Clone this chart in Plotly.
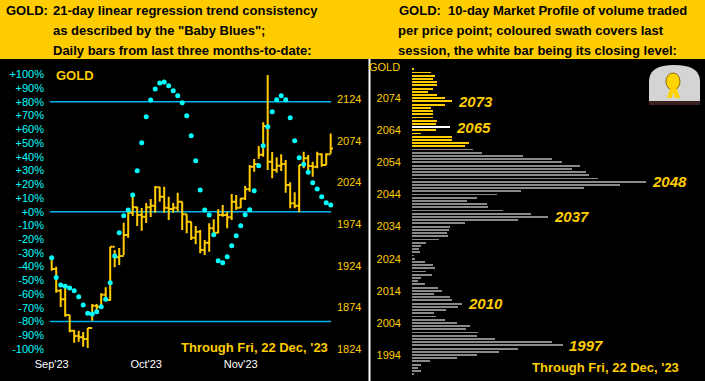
import plotly.graph_objects as go

W, H = 705, 381
GOLD = "#FFCC00"
CYAN = "#00FFFF"
LINE_BLUE = "#00B4F0"
FONT = "Liberation Sans, Arial, sans-serif"

# ---------------- data : left panel ----------------
bar_index = list(range(63))
highs = [1934.9, 1922.9, 1896.1, 1900.6, 1864.9, 1846.8, 1846.0, 1844.4, 1849.2, 1878.1,
         1878.1, 1890.9, 1898.2, 1947.0, 1943.0, 1945.4, 1975.8, 1991.1, 2009.1, 1995.0,
         1993.5, 1999.5, 2004.3, 2019.9, 2019.1, 2019.1, 2007.0, 1999.5, 2011.9, 2001.0,
         1985.9, 1977.0, 1971.8, 1967.0, 1955.0, 1975.1, 1979.9, 1991.9, 1997.1, 1989.0,
         2010.3, 2009.1, 2005.5, 2019.9, 2045.1, 2052.4, 2068.0, 2096.5, 2153.3, 2060.8,
         2054.4, 2058.0, 2051.2, 2024.4, 2012.3, 2045.1, 2061.1, 2057.2, 2049.1, 2061.1,
         2059.2, 2059.2, 2083.0]
lows = [1918.1, 1891.7, 1874.5, 1862.8, 1844.0, 1831.6, 1832.8, 1826.8, 1825.2, 1858.0,
        1866.9, 1874.1, 1882.0, 1882.0, 1922.2, 1925.0, 1937.0, 1957.8, 1983.9, 1971.8,
        1966.2, 1975.4, 1982.7, 1987.8, 2001.0, 1987.8, 1979.0, 1987.8, 1989.0, 1967.0,
        1963.1, 1955.0, 1949.8, 1939.0, 1937.0, 1941.0, 1959.8, 1963.1, 1983.0, 1969.1,
        1979.0, 1991.1, 1993.5, 2003.1, 2013.1, 2037.1, 2052.7, 2055.1, 2039.1, 2029.2,
        2035.9, 2037.9, 2011.9, 1993.1, 1993.1, 1988.5, 2041.2, 2039.1, 2031.1, 2041.2,
        2043.1, 2045.1, 2059.0]
closes = [1920.2, 1894.1, 1883.7, 1864.9, 1846.0, 1839.6, 1838.1, 1836.0, 1849.2, 1876.0,
          1874.8, 1889.3, 1882.9, 1947.0, 1934.2, 1935.8, 1961.0, 1987.8, 1994.3, 1985.1,
          1983.0, 1994.3, 1996.2, 2018.3, 2007.0, 1993.8, 1992.3, 1993.8, 2001.0, 1985.9,
          1977.0, 1957.8, 1965.0, 1943.0, 1951.8, 1969.1, 1963.8, 1985.1, 1985.1, 1982.3,
          2001.0, 1993.8, 2005.0, 2015.9, 2043.1, 2046.4, 2057.5, 2092.0, 2049.1, 2039.1,
          2044.3, 2046.4, 2021.1, 1999.1, 1996.2, 2045.1, 2053.2, 2043.9, 2043.1, 2058.0,
          2045.1, 2058.0, 2065.0]
opens = [1933.0] + closes[:-1]

trend_pct = [-33.5, -48.0, -53.4, -54.3, -55.6, -57.5, -61.9, -68.0, -74.0, -74.5,
             -72.8, -69.2, -63.8, -51.7, -32.3, -15.3, -2.9, 1.2, 12.2, 29.9,
             50.3, 69.2, 81.4, 89.4, 93.7, 94.5, 91.8, 88.1, 84.5, 79.4,
             69.9, 55.4, 37.1, 15.8, 1.2, -2.4, -16.8, -35.7, -37.1, -32.8,
             -24.8, -17.5, -10.2, -2.2, 1.5, 15.3, 33.5, 48.1, 61.9, 72.8,
             81.6, 84.5, 81.6, 68.5, 51.7, 39.3, 34.5, 28.7, 21.1, 16.5,
             10.9, 6.6, 4.9]

month_ticks = [0, 21, 42]
month_labels = ["Sep'23", "Oct'23", "Nov'23"]
pct_ticks = list(range(-100, 101, 10))
pct_labels = [f"{v:+d}%" for v in pct_ticks]
price_ticks = [1824, 1874, 1924, 1974, 2024, 2074, 2124]
band_levels = [80, 0, -80]

# ---------------- data : right panel (market profile) ----------------
profile_prices = list(range(2083, 1987, -1))
profile_volume = [2.3, 19, 23, 20.7, 25.3, 24.7, 20.7, 16.3, 24.7, 33,
                  39.7, 33, 19, 20.7, 20.7, 20.7, 24.7, 24, 38, 24,
                  9, 39.7, 39.7, 57, 53, 60.7, 69.7, 110.7, 139.7, 149.7,
                  168, 159.7, 174, 177, 185.7, 233.7, 208, 172, 108.7, 84.7,
                  64.7, 54.7, 74.7, 76.3, 90.7, 119, 135.7, 105.7, 53, 38,
                  37, 35.3, 36.3, 27, 14, 9, 7, 8, 2, 3,
                  13, 20.7, 23, 14, 20, 9, 6, 13, 26, 30,
                  22, 38, 40, 50, 46, 34, 22, 24, 33, 45,
                  58, 54, 66, 65, 83, 139.7, 150.7, 105.7, 87, 65,
                  45, 18, 9, 6, 9, 2]
session_low, session_high = 2059, 2083
close_level = 2065
profile_callouts = [2073, 2065, 2048, 2037, 2010, 1997]
profile_ticks = list(range(2074, 1993, -10))

# ---------------- helpers ----------------
def fx(px):
    return px / W

def fy(py):
    return 1 - py / H

fig = go.Figure()

fig.add_trace(go.Ohlc(
    x=bar_index, open=opens, high=highs, low=lows, close=closes,
    xaxis="x", yaxis="y",
    increasing=dict(line=dict(color=GOLD, width=2)),
    decreasing=dict(line=dict(color=GOLD, width=2)),
    tickwidth=0.5, showlegend=False, hoverinfo="skip"))

fig.add_trace(go.Scatter(
    x=bar_index, y=trend_pct, mode="markers", xaxis="x", yaxis="y2",
    marker=dict(color=CYAN, size=5, line=dict(width=0)),
    showlegend=False, hoverinfo="skip"))

bar_colors = []
for p in profile_prices:
    if p == close_level:
        bar_colors.append("#FFFFFF")
    elif session_low <= p <= session_high:
        bar_colors.append(GOLD)
    else:
        bar_colors.append("#8A8A8A")
fig.add_trace(go.Bar(
    x=profile_volume, y=profile_prices, orientation="h", xaxis="x2", yaxis="y3",
    marker=dict(color=bar_colors, line=dict(width=0)), width=0.58,
    showlegend=False, hoverinfo="skip"))

left_dom = [fx(45), fx(336)]
left_ydom = [fy(356), fy(62)]
right_dom = [fx(412), fx(702)]
right_ydom = [fy(378), fy(62)]

tick_font = dict(family=FONT, size=11)

fig.update_layout(
    width=W, height=H, margin=dict(l=0, r=0, t=0, b=0, pad=0, autoexpand=False),
    paper_bgcolor="#000000", plot_bgcolor="#000000",
    bargap=0,
    xaxis=dict(domain=left_dom, range=[-1.49, 63.18], anchor="y",
               tickvals=month_ticks, ticktext=month_labels,
               tickfont=dict(tick_font, color="#FFFFFF"),
               rangeslider=dict(visible=False), automargin=False,
               showgrid=False, zeroline=False, showline=False, ticks=""),
    yaxis=dict(domain=left_ydom, range=[1815.6, 2168.95], anchor="x", side="right",
               tickvals=price_ticks, tickfont=dict(tick_font, color=GOLD), automargin=False,
               showgrid=False, zeroline=False, showline=False, ticks=""),
    yaxis2=dict(overlaying="y", range=[-105.1, 109.03], side="left", anchor="x",
                tickvals=pct_ticks, ticktext=pct_labels, automargin=False,
                tickfont=dict(tick_font, color=CYAN),
                showgrid=False, zeroline=False, showline=False, ticks=""),
    xaxis2=dict(domain=right_dom, range=[0, 290], anchor="y3", visible=False, automargin=False),
    yaxis3=dict(domain=right_ydom, range=[1986.83, 2085.28], anchor="x2",
                tickvals=profile_ticks, tickfont=dict(tick_font, color=GOLD),
                ticklabelstandoff=10, automargin=False,
                showgrid=False, zeroline=False, showline=False, ticks=""),
)

shapes = []
shapes.append(dict(type="rect", xref="paper", yref="paper", x0=0, x1=1, y0=fy(59), y1=1,
                   fillcolor=GOLD, line=dict(width=0), layer="below"))
shapes.append(dict(type="line", xref="paper", yref="paper", x0=fx(369.5), x1=fx(369.5),
                   y0=0, y1=fy(59), line=dict(color="#FFFFFF", width=2)))
for lv in band_levels:
    shapes.append(dict(type="line", xref="x", yref="y2", x0=bar_index[0] - 0.4,
                       x1=bar_index[-1] + 0.1, y0=lv, y1=lv,
                       line=dict(color=LINE_BLUE, width=1.5), layer="below"))
# snow globe icon (approximation)
shapes.append(dict(type="path", xref="paper", yref="paper",
                   path=f"M {fx(649)},{fy(101)} L {fx(649)},{fy(80)} Q {fx(650)},{fy(65)} {fx(674)},{fy(65)} "
                        f"Q {fx(699)},{fy(65)} {fx(700)},{fy(80)} L {fx(700)},{fy(101)} Z",
                   fillcolor="#D4D4D4", line=dict(width=0)))
shapes.append(dict(type="rect", xref="paper", yref="paper", x0=fx(649), x1=fx(700),
                   y0=fy(105), y1=fy(101), fillcolor="#3A2020", line=dict(width=0)))
shapes.append(dict(type="circle", xref="paper", yref="paper", x0=fx(666), x1=fx(680),
                   y0=fy(90), y1=fy(73), fillcolor="#FFD400", line=dict(color="#8A6A00", width=1)))
shapes.append(dict(type="path", xref="paper", yref="paper",
                   path=f"M {fx(670)},{fy(89)} L {fx(667)},{fy(98)} L {fx(672)},{fy(98)} L {fx(673)},{fy(92)} "
                        f"L {fx(675)},{fy(98)} L {fx(680)},{fy(98)} L {fx(677)},{fy(89)} Z",
                   fillcolor="#FFD400", line=dict(width=0)))
fig.update_layout(shapes=shapes)

ann = []
def text(x, y, s, size=13, color="#000000", bold=True, italic=False, xanchor="left"):
    t = s
    if bold:
        t = f"<b>{t}</b>"
    if italic:
        t = f"<i>{t}</i>"
    ann.append(dict(xref="paper", yref="paper", x=fx(x), y=fy(y), text=t,
                    showarrow=False, xanchor=xanchor, yanchor="middle",
                    font=dict(family=FONT, size=size, color=color)))

text(4, 10.5, "GOLD:")
text(51, 10.5, "21-day linear regression trend consistency")
text(51, 30.5, "as described by the \"Baby Blues\";")
text(51, 50.5, "Daily bars from last three months-to-date:")
text(397, 10.5, "GOLD:\u00a0\u00a010-day Market Profile of volume traded")
text(396, 30.5, "per price point; coloured swath covers last")
text(396, 50.5, "session, the white bar being its closing level:")

text(54, 75.5, "GOLD", size=13, color=GOLD)
text(179, 347.5, "Through Fri, 22 Dec, '23", size=13, color=GOLD)
text(530, 367, "Through Fri, 22 Dec, '23", size=13, color=GOLD)
text(402, 67, "GOLD", size=11, color=GOLD, bold=False, xanchor="right")

fig.update_layout(annotations=ann)

vol_by_price = dict(zip(profile_prices, profile_volume))
for p in profile_callouts:
    fig.add_annotation(xref="x2", yref="y3", x=vol_by_price[p] + 4, y=p,
                       text=f"<b><i>{p}</i></b>", showarrow=False,
                       xanchor="left", yanchor="middle",
                       font=dict(family=FONT, size=15, color=GOLD))

fig.write_html("out.html",
               config={"displayModeBar": False, "staticPlot": True},
               post_script="document.body.style.margin='0';document.body.style.overflow='hidden';")
